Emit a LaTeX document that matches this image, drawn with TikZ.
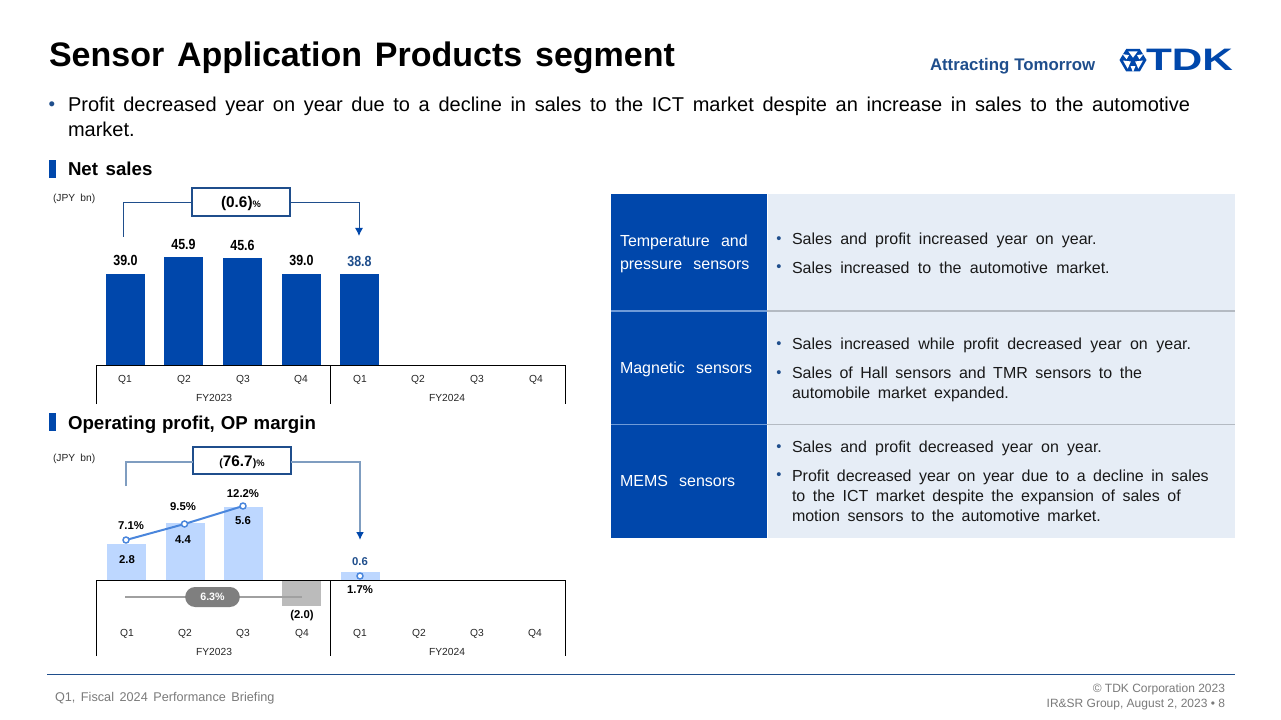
\documentclass[tikz,border=0pt]{standalone}
\usepackage{fontspec}
\setmainfont{Liberation Sans}
\newfontfamily\narrowbold{Liberation Sans}[FakeStretch=0.85]
\usetikzlibrary{arrows.meta,calc}
\definecolor{tdkblue}{HTML}{0047AB}
\definecolor{navy}{HTML}{1F4E8C}
\definecolor{softnavy}{HTML}{7F9DC0}
\definecolor{paleblue}{HTML}{E6EDF6}
\definecolor{barlight}{HTML}{BDD7FF}
\definecolor{linemid}{HTML}{4A86DC}
\definecolor{greybar}{HTML}{BBBBBB}
\definecolor{pillgrey}{HTML}{7F7F7F}
\definecolor{avgline}{HTML}{A0A0A0}
\definecolor{footgrey}{HTML}{7A7A7A}
\definecolor{seprow}{HTML}{B4BAC2}
\definecolor{sephead}{HTML}{6F9BD8}
\newcommand{\wsp}[1]{\spaceskip=#1em\relax}
\tikzset{
 x=0.75pt,y=-0.75pt,
 every node/.style={inner sep=0pt,outer sep=0pt},
 axislab/.style={font=\fontsize{7.7}{9}\selectfont\wsp{0.5},text=black!85},
 val/.style={font=\narrowbold\bfseries\fontsize{11}{12}\selectfont},
 small/.style={font=\fontsize{8.5}{9}\selectfont\bfseries},
 callout/.style={draw=navy,line width=1.5pt,fill=white,minimum width=73pt,minimum height=20.5pt,text height=8.5pt,text depth=0pt,font=\fontsize{11.5}{13}\selectfont\bfseries},
 sect/.style={fill=tdkblue},
 bracket/.style={draw=navy,line width=0.75pt},
 bracketb/.style={draw=softnavy,line width=1.6pt},
 tip/.style={-{Latex[length=6pt,width=6pt,color=tdkblue]}},
 dot/.style={circle,draw=linemid,fill=white,line width=1.1pt,minimum size=4.5pt},
 head/.style={text=white,anchor=base west,font=\fontsize{12}{17.25}\selectfont\wsp{0.7}},
 rowtext/.style={anchor=base west,font=\fontsize{12}{15}\selectfont\wsp{0.514},align=left,text=black!90},
 bul/.style={font=\fontsize{11}{15.5}\selectfont,text=navy},
 logotri/.style={fill=white},
 foot/.style={font=\fontsize{9}{11}\selectfont\wsp{0.278},text=footgrey},
}
\newcommand{\pctsm}{{\fontsize{7}{8}\selectfont\%}}
\begin{document}
\begin{tikzpicture}
\useasboundingbox (0,0) rectangle (1281,720);
\fill[white] (0,0) rectangle (1281,720);
% title
\node[anchor=base west,font=\fontsize{25.5}{28}\selectfont\bfseries\wsp{0.376}] (title) at (49,66.5) {Sensor Application Products segment};
% logo
\node[anchor=base west,font=\fontsize{12.6}{14}\selectfont\bfseries\wsp{0.3},text=navy] (tag) at (930,71) {Attracting Tomorrow};
\fill[tdkblue] (1119.5,60) -- (1126.2,49) -- (1139.8,49) -- (1146.5,60) -- (1139.8,71.5) -- (1126.2,71.5) -- cycle;
\foreach \a in {30,150,270}{
 \fill[logotri] ($(1133,60.2)+(\a:2.5)$) -- ($(1133,60.2)+(\a+28:10)$) -- ($(1133,60.2)+(\a-28:10)$) -- cycle;
}
\foreach \a in {90,210,330}{
 \fill[logotri] ($(1133,60.2)+(\a:12)$) -- ($(1133,60.2)+(\a+22:6.5)$) -- ($(1133,60.2)+(\a-22:6.5)$) -- cycle;
}
\node[anchor=base west,font=\bfseries,text=tdkblue] (tdk) at (1146,71) {\scalebox{1.32}[0.97]{\fontsize{24}{24}\selectfont TDK}};
% bullet
\node[anchor=base,font=\fontsize{14}{18}\selectfont,text=navy] (b0) at (52,111) {•};
\node[anchor=north west,font=\fontsize{15}{18.75}\selectfont\wsp{0.433},align=left] (lead) at (68,97) {Profit decreased year on year due to a decline in sales to the ICT market despite an increase in sales to the automotive\\market.};
% section headings
\fill[sect] (49,160) rectangle (56,178);
\node[anchor=base west,font=\fontsize{14}{16}\selectfont\bfseries\wsp{0.41}] (s1) at (68,176) {Net sales};
\fill[sect] (49,413) rectangle (56,431);
\node[anchor=base west,font=\fontsize{14}{16}\selectfont\bfseries\wsp{0.316}] (s2) at (68,429) {Operating profit, OP margin};
\node[axislab,anchor=base west] (u1) at (53,202) {(JPY bn)};
\node[axislab,anchor=base west] (u2) at (53,461) {(JPY bn)};
% net sales bars
\foreach \xa/\t/\b/\lab in {106/274/266/39.0,164/257/250/45.9,223/258/251/45.6,282/274/266/39.0}{
 \fill[tdkblue] (\xa,\t) rectangle (\xa+39,365);
 \node[val,anchor=base] at (\xa+19.5,\b) {\lab};
}
\fill[tdkblue] (340,274) rectangle (379,365);
\node[val,anchor=base,text=navy] (v5) at (359.5,267) {38.8};
% net sales axis
\draw[line width=0.75pt] (96,404) -- (96,365.5) -- (565,365.5) -- (565,404);
\draw[line width=0.75pt] (330.5,365.5) -- (330.5,404);
\foreach \xa/\lab in {125/Q1,184/Q2,243/Q3,301/Q4,360/Q1,418/Q2,477/Q3,536/Q4}{
 \node[axislab,anchor=base] at (\xa,382) {\lab};
}
\node[axislab,anchor=base] (fa) at (214,401) {FY2023};
\node[axislab,anchor=base] (fb) at (447,401) {FY2024};
% callout 1
\node[callout] (c1) at (241,202) {(0.6)\pctsm};
\coordinate (c1a) at (123,237);
\coordinate (c1b) at (359,236);
\draw[bracket] (c1a) |- ([yshift=-0.75pt]c1.west);
\draw[bracket,tip] ([yshift=-0.75pt]c1.east) -| (c1b);
% op bars
\foreach \xa/\t in {107/544,166/523,224/507,341/572}{
 \fill[barlight] (\xa,\t) rectangle (\xa+39,580);
}
\fill[greybar] (282,580) rectangle (321,606);
% grey average line
\coordinate (g1) at (125,597);
\coordinate (g2) at (302,597);
\draw[avgline,line width=1.5pt] (g1) -- (g2);
\node[fill=pillgrey,rounded corners=7.5pt,minimum width=41pt,minimum height=15pt,text=white,font=\fontsize{8}{9}\selectfont\bfseries] (pill) at (212.5,597) {6.3\%};
% op axis
\draw[line width=0.75pt] (96,656) -- (96,580.5) -- (565,580.5) -- (565,656);
\draw[line width=0.75pt] (330.5,580.5) -- (330.5,656);
\foreach \xa/\lab in {127/Q1,185/Q2,243/Q3,302/Q4,360/Q1,419/Q2,477/Q3,535/Q4}{
 \node[axislab,anchor=base] at (\xa,636) {\lab};
}
\node[axislab,anchor=base] (fc) at (214,655) {FY2023};
\node[axislab,anchor=base] (fd) at (447,655) {FY2024};
% margin line
\node[dot] (m1) at (126,540) {};
\node[dot] (m2) at (184.5,524) {};
\node[dot] (m3) at (243,506) {};
\node[dot] (m5) at (360,576) {};
\draw[linemid,line width=1.5pt] (m1) -- (m2) -- (m3);
% labels
\node[small,anchor=base] at (131,529) {7.1\%};
\node[small,anchor=base] at (183,510) {9.5\%};
\node[small,anchor=base] at (243,497) {12.2\%};
\node[small,anchor=base] at (360,593) {1.7\%};
\node[small,anchor=base] at (127,563) {2.8};
\node[small,anchor=base] at (183,543) {4.4};
\node[small,anchor=base] at (243,524) {5.6};
\node[font=\fontsize{8.5}{9}\selectfont\bfseries,text=navy,anchor=base] at (360,565) {0.6};
\node[small,anchor=base] at (302,618) {(2.0)};
% callout 2
\node[callout] (c2) at (242,460.5) {{\fontsize{8}{9}\selectfont(}76.7{\fontsize{8}{9}\selectfont)}\pctsm};
\coordinate (c2a) at (126,486);
\coordinate (c2b) at (360,540);
\draw[bracketb] (c2a) |- ([yshift=-1pt]c2.west);
\draw[bracketb,tip] ([yshift=-1pt]c2.east) -| (c2b);
% table
\fill[tdkblue] (611,194) rectangle (767,538);
\fill[paleblue] (767,194) rectangle (1235,538);
\draw[white,line width=0.75pt] (767,194) -- (767,538);
\draw[seprow,line width=1.1pt] (767,311) -- (1235,311);
\draw[seprow,line width=1.1pt] (767,424.5) -- (1235,424.5);
\draw[sephead,line width=1.1pt] (611,311) -- (767,311);
\draw[sephead,line width=1.1pt] (611,424.5) -- (767,424.5);
\node[head,align=left] (h1) at (620,270) {Temperature and\\pressure sensors};
\node[head] (h2) at (620,373) {Magnetic sensors};
\node[head] (h3) at (620,486) {MEMS sensors};
\foreach \ya in {244,272,348,377,451,479}{\node[bul,anchor=base] at (779,\ya) {•};}
\node[rowtext] (r1) at (792,245) {Sales and profit increased year on year.};
\node[rowtext] (r2) at (792,273) {Sales increased to the automotive market.};
\node[rowtext] (r3) at (792,349) {\wsp{0.53}Sales increased while profit decreased year on year.};
\node[rowtext,font=\fontsize{12}{15}\selectfont\wsp{0.47}] (r4) at (792,398) {Sales of Hall sensors and TMR sensors to the\\automobile market expanded.};
\node[rowtext] (r5) at (792,452) {Sales and profit decreased year on year.};
\node[rowtext,font=\fontsize{12}{15}\selectfont\wsp{0.47}] (r6) at (792,521) {Profit decreased year on year due to a decline in sales\\to the ICT market despite the expansion of sales of\\motion sensors to the automotive market.};
% footer
\draw[navy,line width=0.75pt] (47,674.5) -- (1235,674.5);
\node[anchor=base west,font=\fontsize{9.5}{11}\selectfont\wsp{0.44},text=footgrey] (f1) at (55,701) {Q1, Fiscal 2024 Performance Briefing};
\node[foot,anchor=base east] (f2) at (1225,692) {© TDK Corporation 2023};
\node[foot,anchor=base east] (f3) at (1225,707) {IR\&SR Group, August 2, 2023 • 8};
\end{tikzpicture}
\end{document}
